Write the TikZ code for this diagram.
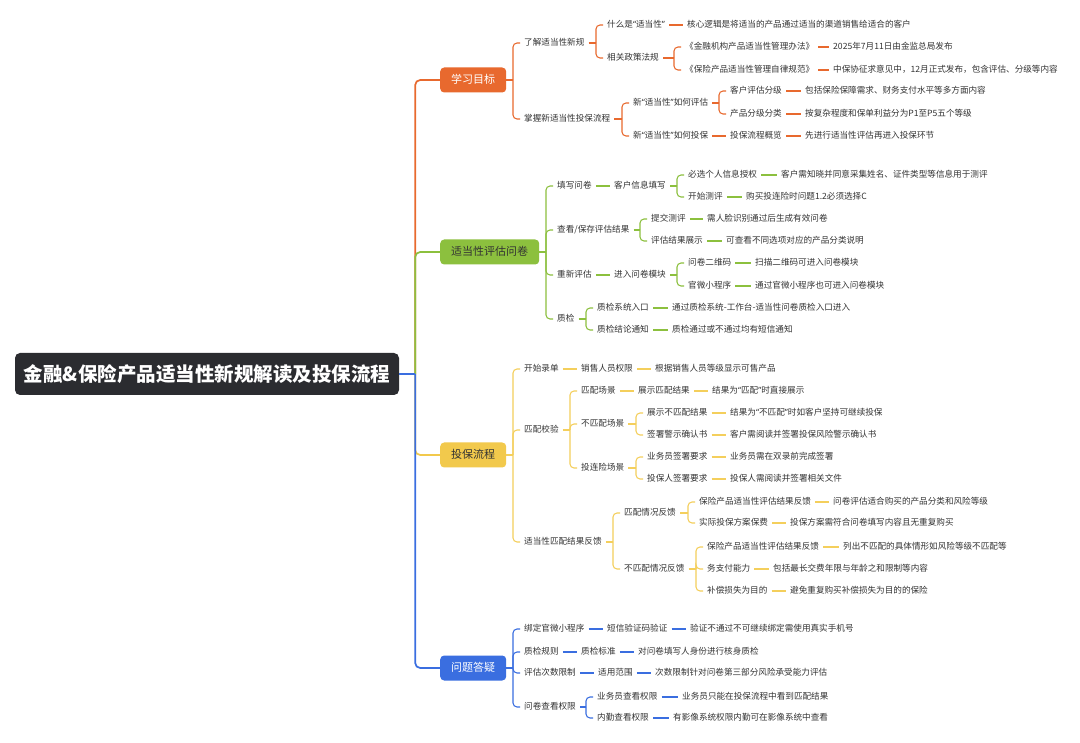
\documentclass[tikz,border=0pt]{standalone}
\usepackage{fontspec}
\usetikzlibrary{calc}
\newfontfamily\cjk{Noto Sans CJK SC}
\newfontfamily\latq{Noto Sans}
\newcommand\qq[1]{{\latq“}#1{\latq”}}
\definecolor{cO}{HTML}{E8692E}
\definecolor{cG}{HTML}{8CC03E}
\definecolor{cY}{HTML}{F2C94C}
\definecolor{cYl}{HTML}{F4CF5C}
\definecolor{cB}{HTML}{3A6EE0}
\definecolor{cRoot}{HTML}{2B2C30}
\definecolor{cT}{HTML}{333333}
\tikzset{
  txt/.style={anchor=west, xshift=-4pt, inner xsep=4pt, inner ysep=0pt,
    text height=7pt, text depth=1.5pt, text=cT,
    font=\cjk\fontsize{8.6}{10}\selectfont},
  mainbox/.style={anchor=west, rounded corners=4pt, inner xsep=11pt, inner ysep=0pt,
    minimum height=25pt, text height=8.5pt, text depth=2pt,
    font=\cjk\fontsize{11}{13}\selectfont},
  lnO/.style={draw=cO, line width=1.05pt},
  lnG/.style={draw=cG, line width=1.05pt},
  lnY/.style={draw=cYl, line width=1.05pt},
  lnB/.style={draw=cB, line width=1.05pt},
  trk/.style={line width=1.7pt, rounded corners=5pt},
}
\newcommand\fork[4]{%
  \path ([xshift=-7pt]#3.west) coordinate (Jx);
  \coordinate (J) at (Jx |- #2.east);
  \draw[#1] (#2.east) -- (J);
  \foreach \ch in {#4}{\draw[#1,rounded corners=4pt] (J) |- (\ch.west);}
}
\newcommand\lk[3]{\draw[#1] (#2.east) -- (#3.west);}
\begin{document}
\begin{tikzpicture}[x=1pt,y=-1pt]
\fill[white] (0,0) rectangle (1080,743);
\useasboundingbox (0,0) rectangle (1080,743);

% root
\node[fill=cRoot, rounded corners=5pt, minimum width=384pt, minimum height=42pt,
  text=white, inner sep=0pt, font=\cjk\bfseries\fontsize{19.5}{22}\selectfont]
  (root) at (207,374) {金融\&保险产品适当性新规解读及投保流程};

% main topics
\node[mainbox, fill=cO, text=white] (m1) at (440,80) {学习目标};
\node[mainbox, fill=cG, text=cT] (m2) at (440,252) {适当性评估问卷};
\node[mainbox, fill=cY, text=cT] (m3) at (440,455) {投保流程};
\node[mainbox, fill=cB, text=white] (m4) at (440,668) {问题答疑};

\coordinate (T) at ([xshift=16pt]root.east);
\draw[trk, draw=cO] (T) |- (m1.west);
\draw[trk, draw=cG] (T) |- (m2.west);
\draw[trk, draw=cY] (T) |- (m3.west);
\draw[trk, draw=cB] (T) |- (m4.west);
\draw[line width=1.7pt, draw=cB] (root.east) -- (T);

% ---------- orange ----------
\node[txt] (a1) at (524,43) {了解适当性新规};
\node[txt] (a11) at (607,25) {什么是\qq{适当性}};
\node[txt] (a111) at (687,25) {核心逻辑是将适当的产品通过适当的渠道销售给适合的客户};
\node[txt] (a12) at (607,58) {相关政策法规};
\node[txt] (a121) at (685,47) {《金融机构产品适当性管理办法》};
\node[txt] (a1211) at (833,47) {2025年7月11日由金监总局发布};
\node[txt] (a122) at (685,70) {《保险产品适当性管理自律规范》};
\node[txt] (a1221) at (833,70) {中保协征求意见中，12月正式发布，包含评估、分级等内容};
\node[txt] (a2) at (524,119) {掌握新适当性投保流程};
\node[txt] (a21) at (633,103) {新\qq{适当性}如何评估};
\node[txt] (a211) at (730,91) {客户评估分级};
\node[txt] (a2111) at (805,91) {包括保险保障需求、财务支付水平等多方面内容};
\node[txt] (a212) at (730,114) {产品分级分类};
\node[txt] (a2121) at (805,114) {按复杂程度和保单利益分为P1至P5五个等级};
\node[txt] (a22) at (633,136) {新\qq{适当性}如何投保};
\node[txt] (a221) at (730,136) {投保流程概览};
\node[txt] (a2211) at (805,136) {先进行适当性评估再进入投保环节};

\fork{lnO}{m1}{a1}{a1,a2}
\fork{lnO}{a1}{a11}{a11,a12}
\lk{lnO}{a11}{a111}
\fork{lnO}{a12}{a121}{a121,a122}
\lk{lnO}{a121}{a1211}
\lk{lnO}{a122}{a1221}
\fork{lnO}{a2}{a21}{a21,a22}
\fork{lnO}{a21}{a211}{a211,a212}
\lk{lnO}{a211}{a2111}
\lk{lnO}{a212}{a2121}
\lk{lnO}{a22}{a221}
\lk{lnO}{a221}{a2211}

% ---------- green ----------
\node[txt] (b1) at (557,186) {填写问卷};
\node[txt] (b11) at (614,186) {客户信息填写};
\node[txt] (b111) at (688,175) {必选个人信息授权};
\node[txt] (b1111) at (781,175) {客户需知晓并同意采集姓名、证件类型等信息用于测评};
\node[txt] (b112) at (688,197) {开始测评};
\node[txt] (b1121) at (746,197) {购买投连险时问题1.2必须选择C};
\node[txt] (b2) at (557,230) {查看/保存评估结果};
\node[txt] (b21) at (651,219) {提交测评};
\node[txt] (b211) at (707,219) {需人脸识别通过后生成有效问卷};
\node[txt] (b22) at (651,241) {评估结果展示};
\node[txt] (b221) at (726,241) {可查看不同选项对应的产品分类说明};
\node[txt] (b3) at (557,275) {重新评估};
\node[txt] (b31) at (614,275) {进入问卷模块};
\node[txt] (b311) at (688,263) {问卷二维码};
\node[txt] (b3111) at (755,263) {扫描二维码可进入问卷模块};
\node[txt] (b312) at (688,286) {官微小程序};
\node[txt] (b3121) at (755,286) {通过官微小程序也可进入问卷模块};
\node[txt] (b4) at (557,319) {质检};
\node[txt] (b41) at (597,308) {质检系统入口};
\node[txt] (b411) at (672,308) {通过质检系统-工作台-适当性问卷质检入口进入};
\node[txt] (b42) at (597,330) {质检结论通知};
\node[txt] (b421) at (672,330) {质检通过或不通过均有短信通知};

\fork{lnG}{m2}{b1}{b1,b2,b3,b4}
\lk{lnG}{b1}{b11}
\fork{lnG}{b11}{b111}{b111,b112}
\lk{lnG}{b111}{b1111}
\lk{lnG}{b112}{b1121}
\fork{lnG}{b2}{b21}{b21,b22}
\lk{lnG}{b21}{b211}
\lk{lnG}{b22}{b221}
\lk{lnG}{b3}{b31}
\fork{lnG}{b31}{b311}{b311,b312}
\lk{lnG}{b311}{b3111}
\lk{lnG}{b312}{b3121}
\fork{lnG}{b4}{b41}{b41,b42}
\lk{lnG}{b41}{b411}
\lk{lnG}{b42}{b421}

% ---------- yellow ----------
\node[txt] (c1) at (524,369) {开始录单};
\node[txt] (c11) at (581,369) {销售人员权限};
\node[txt] (c111) at (655,369) {根据销售人员等级显示可售产品};
\node[txt] (c2) at (524,430) {匹配校验};
\node[txt] (c21) at (581,391) {匹配场景};
\node[txt] (c211) at (638,391) {展示匹配结果};
\node[txt] (c2111) at (712,391) {结果为\qq{匹配}时直接展示};
\node[txt] (c22) at (581,424) {不匹配场景};
\node[txt] (c221) at (647,413) {展示不匹配结果};
\node[txt] (c2211) at (730,413) {结果为\qq{不匹配}时如客户坚持可继续投保};
\node[txt] (c222) at (647,435) {签署警示确认书};
\node[txt] (c2221) at (730,435) {客户需阅读并签署投保风险警示确认书};
\node[txt] (c23) at (581,468) {投连险场景};
\node[txt] (c231) at (647,457) {业务员签署要求};
\node[txt] (c2311) at (730,457) {业务员需在双录前完成签署};
\node[txt] (c232) at (647,479) {投保人签署要求};
\node[txt] (c2321) at (730,479) {投保人需阅读并签署相关文件};
\node[txt] (c3) at (524,542) {适当性匹配结果反馈};
\node[txt] (c31) at (624,513) {匹配情况反馈};
\node[txt] (c311) at (699,502) {保险产品适当性评估结果反馈};
\node[txt] (c3111) at (833,502) {问卷评估适合购买的产品分类和风险等级};
\node[txt] (c312) at (699,523) {实际投保方案保费};
\node[txt] (c3121) at (790,523) {投保方案需符合问卷填写内容且无重复购买};
\node[txt] (c32) at (624,569) {不匹配情况反馈};
\node[txt] (c321) at (707,547) {保险产品适当性评估结果反馈};
\node[txt] (c3211) at (843,547) {列出不匹配的具体情形如风险等级不匹配等};
\node[txt] (c322) at (707,569) {务支付能力};
\node[txt] (c3221) at (773,569) {包括最长交费年限与年龄之和限制等内容};
\node[txt] (c323) at (707,591) {补偿损失为目的};
\node[txt] (c3231) at (790,591) {避免重复购买补偿损失为目的的保险};

\fork{lnY}{m3}{c1}{c1,c2,c3}
\lk{lnY}{c1}{c11}
\lk{lnY}{c11}{c111}
\fork{lnY}{c2}{c21}{c21,c22,c23}
\lk{lnY}{c21}{c211}
\lk{lnY}{c211}{c2111}
\fork{lnY}{c22}{c221}{c221,c222}
\lk{lnY}{c221}{c2211}
\lk{lnY}{c222}{c2221}
\fork{lnY}{c23}{c231}{c231,c232}
\lk{lnY}{c231}{c2311}
\lk{lnY}{c232}{c2321}
\fork{lnY}{c3}{c31}{c31,c32}
\fork{lnY}{c31}{c311}{c311,c312}
\lk{lnY}{c311}{c3111}
\lk{lnY}{c312}{c3121}
\fork{lnY}{c32}{c321}{c321,c322,c323}
\lk{lnY}{c321}{c3211}
\lk{lnY}{c322}{c3221}
\lk{lnY}{c323}{c3231}

% ---------- blue ----------
\node[txt] (d1) at (524,629) {绑定官微小程序};
\node[txt] (d11) at (607,629) {短信验证码验证};
\node[txt] (d111) at (690,629) {验证不通过不可继续绑定需使用真实手机号};
\node[txt] (d2) at (524,652) {质检规则};
\node[txt] (d21) at (581,652) {质检标准};
\node[txt] (d211) at (638,652) {对问卷填写人身份进行核身质检};
\node[txt] (d3) at (524,673) {评估次数限制};
\node[txt] (d31) at (598,673) {适用范围};
\node[txt] (d311) at (655,673) {次数限制针对问卷第三部分风险承受能力评估};
\node[txt] (d4) at (524,707) {问卷查看权限};
\node[txt] (d41) at (597,697) {业务员查看权限};
\node[txt] (d411) at (682,697) {业务员只能在投保流程中看到匹配结果};
\node[txt] (d42) at (597,718) {内勤查看权限};
\node[txt] (d421) at (673,718) {有影像系统权限内勤可在影像系统中查看};

\fork{lnB}{m4}{d1}{d1,d2,d3,d4}
\lk{lnB}{d1}{d11}
\lk{lnB}{d11}{d111}
\lk{lnB}{d2}{d21}
\lk{lnB}{d21}{d211}
\lk{lnB}{d3}{d31}
\lk{lnB}{d31}{d311}
\fork{lnB}{d4}{d41}{d41,d42}
\lk{lnB}{d41}{d411}
\lk{lnB}{d42}{d421}
\end{tikzpicture}
\end{document}
